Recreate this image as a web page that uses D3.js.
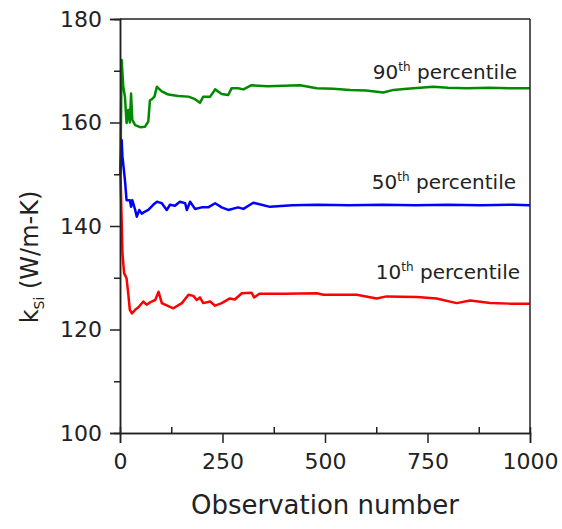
<!DOCTYPE html>
<html>
<head>
<meta charset="utf-8">
<script src="https://cdn.jsdelivr.net/npm/d3@7"></script>
<style>
  body { margin: 0; background: #fff; }
  text { font-family: "DejaVu Sans", sans-serif; fill: #222; }
</style>
</head>
<body>
<div id="chart"></div>
<script>
// observation numbers and running percentile values
var obs90 = [1, 4, 8, 12, 16, 20, 24, 27, 30, 37, 49, 61, 69, 73, 78, 84, 90, 94, 102, 110, 118, 142, 167, 183, 195, 203, 220, 232, 248, 264, 272, 288, 301, 321, 360, 439, 480, 520, 561, 600, 642, 667, 700, 764, 800, 846, 900, 950, 1000];
var p90 = [150, 172.1, 166.9, 165.0, 159.9, 162.4, 160.0, 165.6, 160.5, 159.5, 159.1, 159.2, 160.2, 164.3, 164.5, 165.0, 166.9, 166.6, 166.0, 165.7, 165.4, 165.1, 165.0, 164.5, 163.8, 165.0, 165.0, 166.4, 165.5, 165.3, 166.6, 166.6, 166.4, 167.2, 167.0, 167.2, 166.6, 166.5, 166.3, 166.2, 165.8, 166.3, 166.5, 166.9, 166.7, 166.6, 166.7, 166.6, 166.6];

var obs50 = [1, 4, 6, 12, 16, 24, 27, 30, 37, 41, 47, 53, 61, 69, 81, 90, 102, 114, 122, 134, 146, 159, 163, 171, 183, 199, 215, 232, 248, 264, 288, 301, 321, 325, 366, 420, 480, 560, 640, 720, 800, 880, 960, 1000];
var p50 = [150, 156.6, 153.4, 148.9, 145.0, 145.0, 143.7, 145.0, 143.1, 141.8, 143.1, 142.4, 142.8, 143.1, 144.1, 144.7, 144.4, 143.1, 144.1, 143.9, 144.7, 144.4, 143.1, 144.7, 143.3, 143.6, 143.6, 144.4, 143.6, 143.1, 143.6, 143.3, 144.3, 144.5, 143.7, 144.0, 144.1, 144.0, 144.1, 144.0, 144.1, 144.0, 144.1, 144.0];

var obs10 = [1, 4, 6, 10, 16, 20, 24, 29, 37, 45, 57, 65, 77, 86, 94, 102, 110, 130, 151, 167, 179, 187, 195, 203, 220, 232, 248, 268, 280, 297, 321, 327, 340, 400, 480, 496, 577, 626, 650, 724, 772, 821, 854, 903, 950, 1000];
var p10 = [151, 141.2, 134.7, 130.9, 129.9, 127.0, 123.8, 123.1, 123.8, 124.3, 125.4, 124.8, 125.4, 125.7, 127.3, 125.1, 124.8, 124.1, 125.1, 126.7, 126.5, 125.7, 126.2, 125.1, 125.4, 124.6, 125.1, 126.0, 125.8, 127.0, 127.1, 126.2, 126.9, 126.9, 127.0, 126.7, 126.7, 126.0, 126.4, 126.3, 126.0, 125.1, 125.6, 125.1, 125.0, 125.0];

var seriesNames = ["90", "50", "10"];
var seriesColors = ["#008a00", "#0000ff", "#ff0000"];
var xTicks = [0, 250, 500, 750, 1000];
var xMinor = [125, 375, 625, 875];
var yTicks = [100, 120, 140, 160, 180];
var yMinor = [110, 130, 150, 170];

var width = 562, height = 529;
var margin = {top: 19, right: 32, bottom: 96, left: 120};

var svg = d3.select("#chart").append("svg")
  .attr("width", width).attr("height", height);

var x = d3.scaleLinear().domain([0, 1000]).range([margin.left, width - margin.right]);
var y = d3.scaleLinear().domain([100, 180]).range([height - margin.bottom, margin.top]);

var frame = "#222";

// lines
var series = [
  {name: seriesNames[0], xs: obs90, ys: p90, color: seriesColors[0]},
  {name: seriesNames[1], xs: obs50, ys: p50, color: seriesColors[1]},
  {name: seriesNames[2], xs: obs10, ys: p10, color: seriesColors[2]}
];

var line = d3.line().x(function(d) { return x(d[0]); }).y(function(d) { return y(d[1]); });

svg.selectAll("path.series").data(series).enter().append("path")
  .attr("class", "series")
  .attr("d", function(s) { return line(d3.zip(s.xs, s.ys)); })
  .style("fill", "none").style("stroke", function(s) { return s.color; })
  .style("stroke-width", 2.5).style("stroke-linejoin", "round");

// axes
svg.append("g").attr("transform", "translate(" + margin.left + ",0)")
  .call(d3.axisLeft(y).tickValues(yTicks).tickSize(10).tickPadding(8));
svg.append("g").attr("transform", "translate(" + margin.left + ",0)")
  .call(d3.axisLeft(y).tickValues(yMinor).tickSize(6).tickFormat(""));

svg.append("g").attr("transform", "translate(0," + y(100) + ")")
  .call(d3.axisBottom(x).tickValues(xTicks).tickFormat(d3.format("d")).tickSize(10).tickPadding(10));
svg.append("g").attr("transform", "translate(0," + y(100) + ")")
  .call(d3.axisBottom(x).tickValues(xMinor).tickSize(-6).tickFormat(""));

svg.selectAll(".domain").style("stroke", frame).style("stroke-width", 1.5);
svg.selectAll(".tick line").style("stroke", frame).style("stroke-width", 1.5);
svg.selectAll(".tick text").style("font-family", "DejaVu Sans, sans-serif")
  .style("font-size", "22px").style("fill", "#222");

// top and right frame
svg.append("line").attr("x1", x(0)).attr("x2", x(1000)).attr("y1", y(180)).attr("y2", y(180))
  .style("stroke", frame).style("stroke-width", 1.5);
svg.append("line").attr("x1", x(1000)).attr("x2", x(1000)).attr("y1", y(180)).attr("y2", y(100))
  .style("stroke", frame).style("stroke-width", 1.5);

// axis titles
svg.append("text").attr("x", (x(0) + x(1000)) / 2).attr("y", 514)
  .attr("text-anchor", "middle").style("font-size", "26px").text("Observation number");

var yt = svg.append("text").attr("transform", "translate(38,257) rotate(-90)")
  .attr("text-anchor", "middle").style("font-size", "24px");
yt.append("tspan").text("k");
yt.append("tspan").attr("dy", 6).style("font-size", "14px").text("Si");
yt.append("tspan").attr("dy", -6).text(" (W/m-K)");

// percentile labels
var labelPos = [[517, 79], [516, 189], [520, 279]];
series.forEach(function(s, i) {
  var t = svg.append("text").attr("x", labelPos[i][0]).attr("y", labelPos[i][1])
    .attr("text-anchor", "end").style("font-size", "20px");
  t.append("tspan").text(s.name);
  t.append("tspan").attr("dy", -8).style("font-size", "12px").text("th");
  t.append("tspan").attr("dy", 8).text(" percentile");
});
</script>
</body>
</html>
